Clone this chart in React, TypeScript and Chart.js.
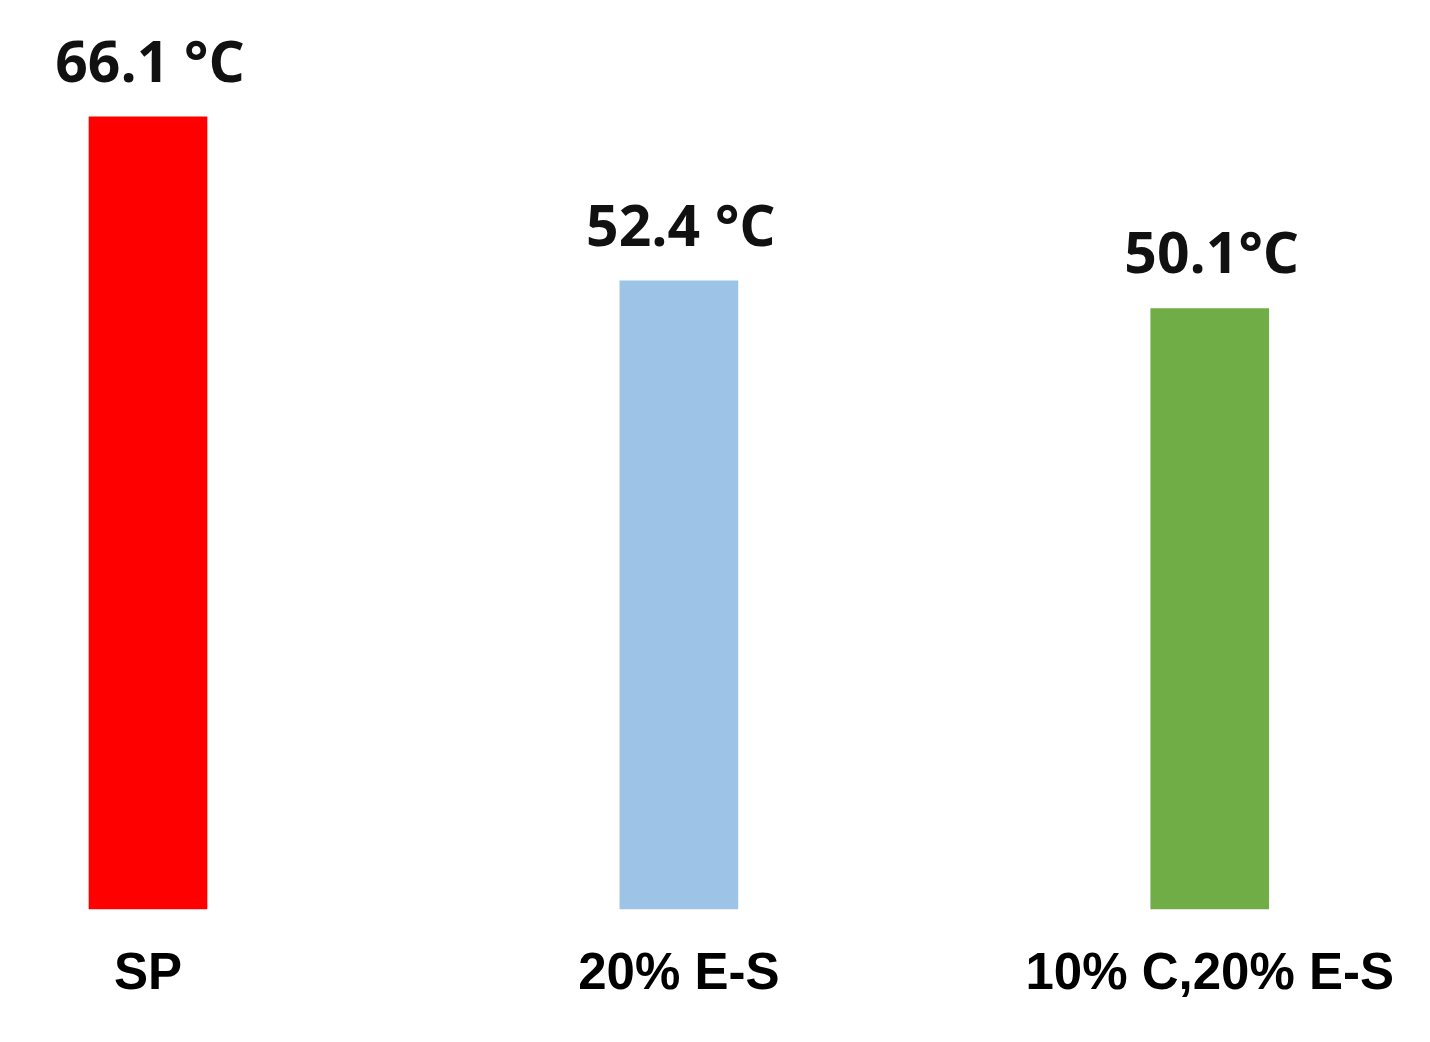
import React, { useEffect, useRef } from "react";
import { Chart, registerables } from "chart.js";

Chart.register(...registerables);

const categories = ["SP", "20% E-S", "10% C,20% E-S"];
const values = [66.1, 52.4, 50.1];
const valueLabels = ["66.1 °C", "52.4 °C", "50.1°C"];
const barColors = ["#FF0000", "#9DC3E6", "#70AD47"];

const valueLabelPlugin = {
  id: "valueLabels",
  afterDatasetsDraw(chart: any) {
    const ctx = chart.ctx;
    const meta = chart.getDatasetMeta(0);
    ctx.save();
    ctx.font = "bold 57px 'Open Sans'";
    ctx.fillStyle = "#111111";
    ctx.textAlign = "center";
    ctx.textBaseline = "alphabetic";
    meta.data.forEach((el: any, i: number) => {
      ctx.fillText(valueLabels[i], el.x + 2, el.y - 35);
    });
    ctx.restore();
  },
};

export default function App() {
  const ref = useRef<HTMLCanvasElement>(null);
  useEffect(() => {
    if (!ref.current) return;
    const chart = new Chart(ref.current, {
      type: "bar",
      data: {
        labels: categories,
        datasets: [
          {
            data: values,
            backgroundColor: barColors,
            borderWidth: 0,
            barThickness: 118,
            clip: false,
          },
        ],
      },
      options: {
        animation: false,
        responsive: true,
        maintainAspectRatio: false,
        layout: { padding: { left: 148, right: 216, top: 70, bottom: 0 } },
        plugins: { legend: { display: false }, tooltip: { enabled: false } },
        scales: {
          x: {
            offset: false,
            grid: { display: false, drawTicks: false },
            border: { display: false },
            ticks: {
              color: "#000000",
              padding: 36,
              maxRotation: 0,
              autoSkip: false,
              font: { family: "'Liberation Sans', Arial", weight: "bold", size: 51 },
            },
          },
          y: {
            display: false,
            min: 0,
            max: 70,
          },
        },
      },
      plugins: [valueLabelPlugin],
    });
    return () => chart.destroy();
  }, []);
  return (
    <div style={{ position: "fixed", left: 0, top: 0, width: 1430, height: 1042, background: "#fff" }}>
      <canvas ref={ref} />
    </div>
  );
}
